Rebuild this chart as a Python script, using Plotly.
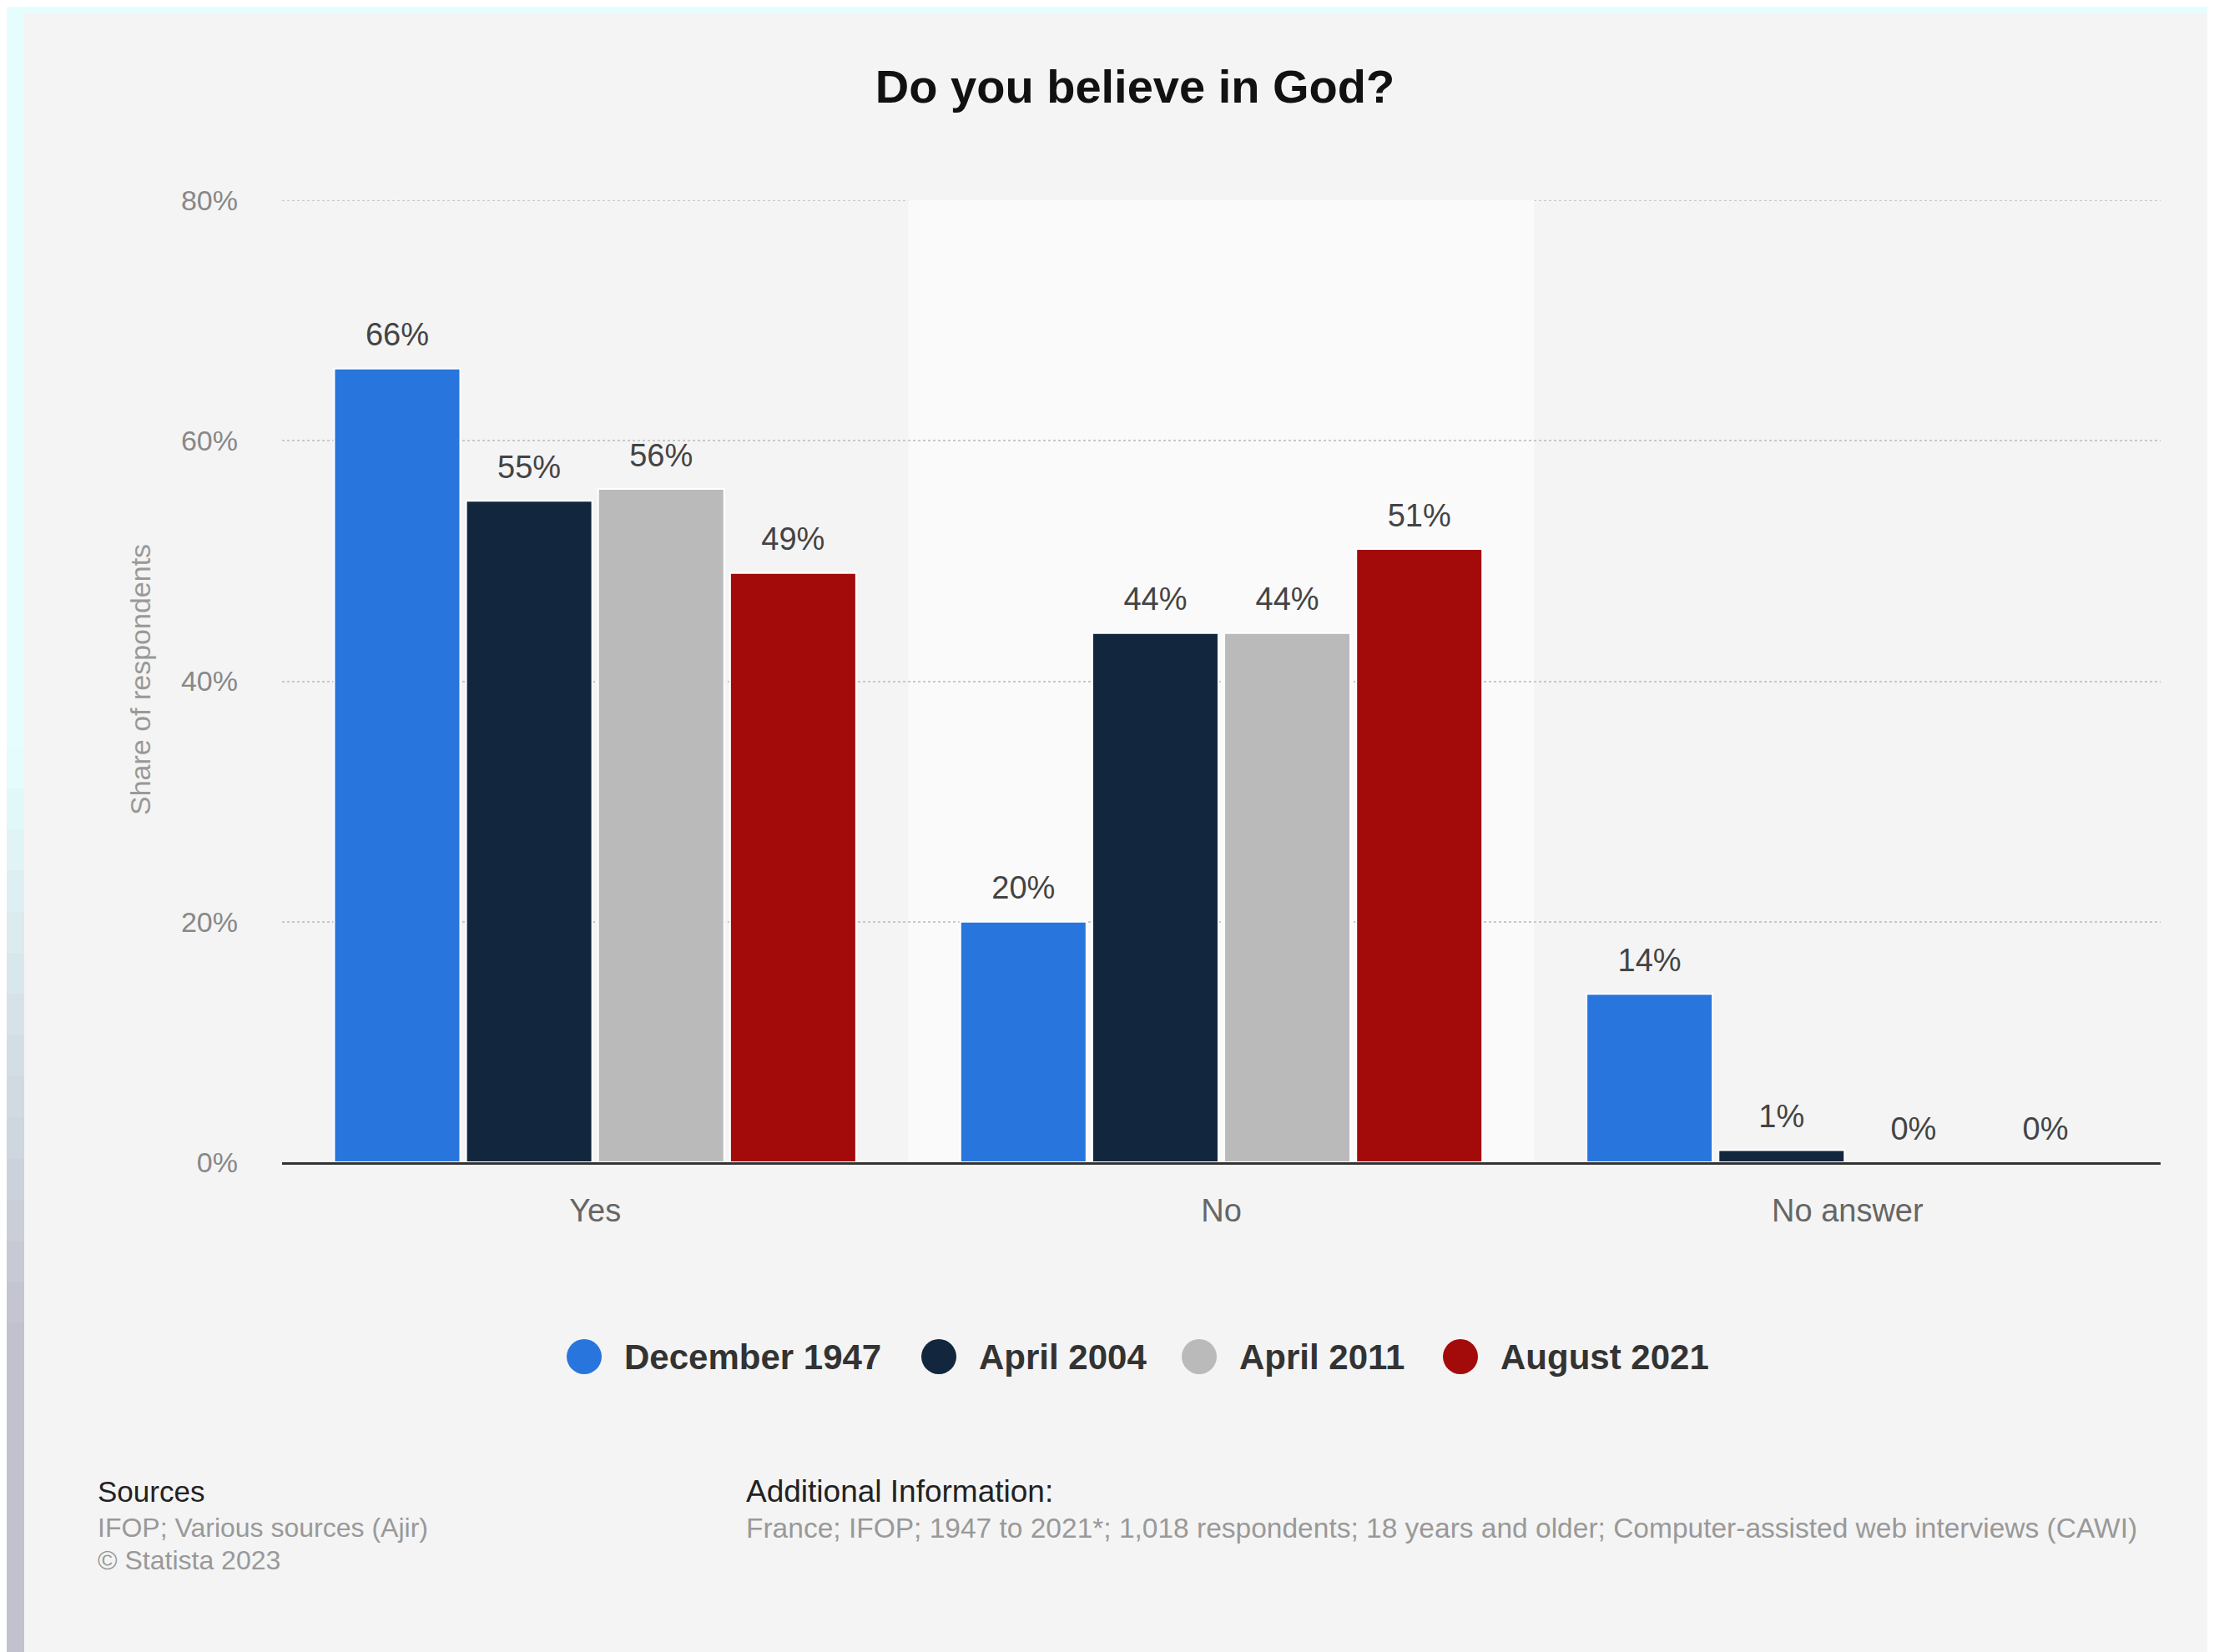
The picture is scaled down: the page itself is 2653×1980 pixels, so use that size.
import plotly.graph_objects as go

# ---------------- data ----------------
categories = ["Yes", "No", "No answer"]
series_names = ["December 1947", "April 2004", "April 2011", "August 2021"]
dec_1947 = [66, 20, 14]
apr_2004 = [55, 44, 1]
apr_2011 = [56, 44, 0]
aug_2021 = [49, 51, 0]
y_ticks = [0, 20, 40, 60, 80]
y_tick_labels = ["0%", "20%", "40%", "60%", "80%"]

series_values = [dec_1947, apr_2004, apr_2011, aug_2021]
colors = ["#2876dd", "#12263d", "#bababa", "#a30b0b"]

title_text = "Do you believe in God?"
y_title = "Share of respondents"
sources_head = "Sources"
sources_lines = ["IFOP; Various sources (Ajir)", "© Statista 2023"]
info_head = "Additional Information:"
info_line = ("France; IFOP; 1947 to 2021*; 1,018 respondents; 18 years and older; "
             "Computer-assisted web interviews (CAWI)")

# ---------------- layout geometry (page pixels) ----------------
WIDTH, HEIGHT = 2653, 1980
OFF = 8                       # body margin of the html page
L, R, T, B = 338, 2589, 240, 1393
PW, PH = R - L, B - T
FONT = "Liberation Sans, Arial, Helvetica, sans-serif"
BARGAP = 0.157
GRID_COLOR = "#c8c8c8"


def xp(px):
    return (px - L) / PW


def yp(py):
    return (B - py) / PH


def hexmix(c1, c2, t):
    a = [int(c1[i:i + 2], 16) for i in (1, 3, 5)]
    b = [int(c2[i:i + 2], 16) for i in (1, 3, 5)]
    return "#" + "".join(f"{round(x + (y - x) * t):02x}" for x, y in zip(a, b))


fig = go.Figure()

for name, vals, col in zip(series_names, series_values, colors):
    fig.add_trace(go.Bar(
        x=categories, y=vals, name=name,
        marker=dict(color=col, line=dict(color="#ffffff", width=2)),
        showlegend=False, hoverinfo="x+y+name",
    ))

# value labels, grouped like the bars
for name, vals in zip(series_names, series_values):
    fig.add_trace(go.Scatter(
        x=categories, y=vals, mode="markers+text",
        text=[f"{v}%" for v in vals], textposition="top center",
        textfont=dict(family=FONT, size=38, color="#444444"),
        marker=dict(size=27, opacity=0),
        showlegend=False, hoverinfo="skip", cliponaxis=False, name=name,
    ))

shapes = []
# outer frame (cyan top strip, left strip fading to grey)
CYAN, GREY = "#e6fdfd", "#c2c2ce"
shapes.append(dict(type="rect", xref="paper", yref="paper",
                   x0=xp(OFF), x1=xp(WIDTH + OFF), y0=yp(16), y1=yp(OFF),
                   fillcolor=CYAN, line=dict(width=0), layer="below"))
nseg = 40
seg = (HEIGHT - OFF) / nseg
for i in range(nseg):
    ymid = OFF + (i + 0.5) * seg
    t = min(max((ymid - 900) / (1600 - 900), 0), 1)
    shapes.append(dict(type="rect", xref="paper", yref="paper",
                       x0=xp(OFF), x1=xp(29),
                       y0=yp(OFF + (i + 1) * seg + 1), y1=yp(OFF + i * seg),
                       fillcolor=hexmix(CYAN, GREY, t), line=dict(width=0), layer="below"))
# lighter middle category band
shapes.append(dict(type="rect", xref="x", yref="y", x0=0.5, x1=1.5, y0=0, y1=80,
                   fillcolor="#fafafa", line=dict(width=0), layer="below"))
# top gridline (sits on the plot edge, which plotly does not draw)
shapes.append(dict(type="line", xref="paper", yref="y", x0=0, x1=1,
                   y0=y_ticks[-1], y1=y_ticks[-1],
                   line=dict(color=GRID_COLOR, width=2, dash="dot"), layer="below"))

# custom legend with round markers
legend_cx = [700, 1125, 1437, 1750]
legend_cy = 1626
annotations = []
for cx, name, col in zip(legend_cx, series_names, colors):
    shapes.append(dict(type="circle", xref="paper", yref="paper",
                       xsizemode="pixel", ysizemode="pixel",
                       xanchor=xp(cx), yanchor=yp(legend_cy),
                       x0=-21, x1=21, y0=-21, y1=21,
                       fillcolor=col, line=dict(width=0)))
    annotations.append(dict(xref="paper", yref="paper", x=xp(cx + 46), y=yp(legend_cy),
                            xanchor="left", yanchor="middle", showarrow=False,
                            text=name,
                            font=dict(family=FONT, size=42, color="#333333", weight="bold")))

# y axis title
annotations.append(dict(xref="paper", yref="paper", x=xp(168), y=yp(815),
                        xanchor="center", yanchor="middle", showarrow=False,
                        text=y_title, textangle=-90,
                        font=dict(family=FONT, size=34, color="#999999")))

# footer
annotations.append(dict(xref="paper", yref="paper", x=xp(115), y=yp(1787),
                        xanchor="left", yanchor="middle", showarrow=False,
                        text=sources_head,
                        font=dict(family=FONT, size=35, color="#222222")))
for i, line in enumerate(sources_lines):
    annotations.append(dict(xref="paper", yref="paper", x=xp(115), y=yp(1831 + 39 * i),
                            xanchor="left", yanchor="middle", showarrow=False,
                            text=line,
                            font=dict(family=FONT, size=32, color="#999999")))
annotations.append(dict(xref="paper", yref="paper", x=xp(892), y=yp(1787),
                        xanchor="left", yanchor="middle", showarrow=False,
                        text=info_head,
                        font=dict(family=FONT, size=37, color="#222222")))
annotations.append(dict(xref="paper", yref="paper", x=xp(892), y=yp(1831),
                        xanchor="left", yanchor="middle", showarrow=False,
                        text=info_line,
                        font=dict(family=FONT, size=33.5, color="#999999")))

fig.update_layout(
    width=WIDTH, height=HEIGHT,
    margin=dict(l=L - OFF, r=WIDTH - (R - OFF), t=T - OFF, b=HEIGHT - (B - OFF),
                autoexpand=False),
    paper_bgcolor="#f4f4f4", plot_bgcolor="#f4f4f4",
    barmode="group", bargap=BARGAP, bargroupgap=0.045,
    scattermode="group", scattergap=BARGAP,
    showlegend=False,
    title=dict(text=title_text, x=(1360 - OFF) / WIDTH, xanchor="center",
               y=1 - (103 - OFF) / HEIGHT, yanchor="middle",
               font=dict(family=FONT, size=56, color="#111111", weight="bold")),
    xaxis=dict(type="category", showgrid=False, zeroline=False,
               showline=True, linecolor="#333333", linewidth=3,
               ticks="", ticklabelstandoff=22,
               tickfont=dict(family=FONT, size=38, color="#666666")),
    yaxis=dict(range=[0, 80], tickmode="array", tickvals=y_ticks,
               ticktext=y_tick_labels,
               showgrid=True, gridcolor=GRID_COLOR, gridwidth=2, griddash="dot",
               zeroline=False, showline=False, ticks="", ticklabelstandoff=52,
               tickfont=dict(family=FONT, size=34, color="#888888")),
    shapes=shapes, annotations=annotations,
    font=dict(family=FONT),
)

fig.write_html("out.html")
